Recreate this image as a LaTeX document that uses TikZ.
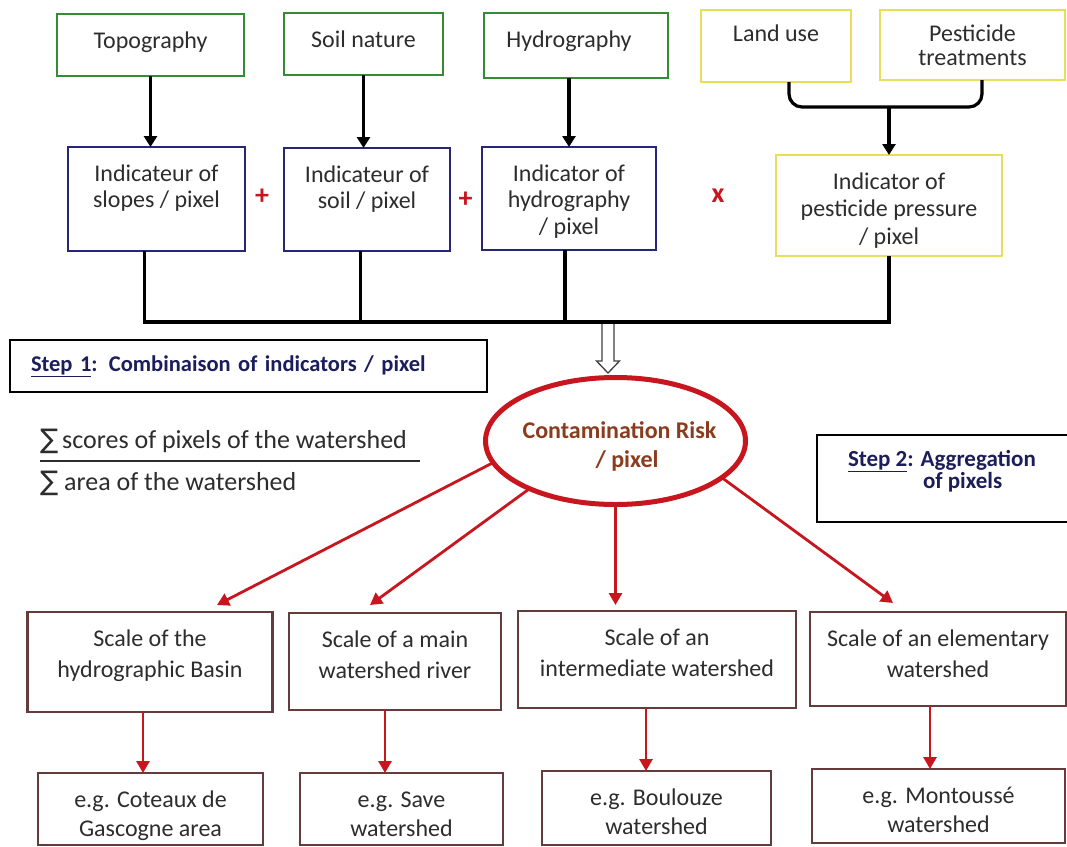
\documentclass[tikz,border=0pt]{standalone}
\usepackage{fontspec}
\setmainfont{Carlito}
\newfontfamily\sigfont{DejaVu Sans}
\usetikzlibrary{shapes.geometric,arrows.meta,calc}
\definecolor{cgreen}{RGB}{52,140,52}
\definecolor{cnavy}{RGB}{38,38,120}
\definecolor{cyellow}{RGB}{232,222,90}
\definecolor{cbrd}{RGB}{100,60,60}
\definecolor{cred}{RGB}{200,22,30}
\definecolor{cbrown}{RGB}{140,60,30}
\definecolor{cstep}{RGB}{28,30,92}
\definecolor{ctext}{RGB}{45,45,45}
\newcommand\tstrut{\rule{0pt}{17pt}}
\begin{document}
\begin{tikzpicture}[x=1pt,y=-1pt,
  every node/.style={inner sep=0pt,outer sep=0pt},
  gbox/.style={draw=cgreen,line width=2.8pt,fill=white},
  nbox/.style={draw=cnavy,line width=2.8pt,fill=white},
  ybox/.style={draw=cyellow,line width=2.8pt,fill=white},
  rbox/.style={draw=cbrd,line width=2.5pt,fill=white},
  kbox/.style={draw=black,line width=2.4pt,fill=white},
  lab/.style={anchor=north,yshift=-17pt,align=center,text=ctext,font=\fontsize{24}{26.5}\selectfont},
  labS/.style={lab,font=\fontsize{24}{31}\selectfont},
  labB/.style={lab,font=\fontsize{24}{29}\selectfont},
  op/.style={text=cred,font=\bfseries\fontsize{28}{28}\selectfont},
  conn/.style={line width=3.2pt,black},
  arr/.style={conn,-{Triangle[width=13pt,length=11pt]}},
  rarr/.style={line width=2.8pt,cred,-{Triangle[width=13pt,length=12pt]}},
  frac/.style={text=ctext,font=\fontsize{26}{26}\selectfont},
]
\fill[white] (0,0) rectangle (1067,846);
\useasboundingbox (0,0) rectangle (1067,846);

% top data sources
\node[gbox,minimum width=187pt,minimum height=62pt,label={[lab]north:{\tstrut Topography}}] (topo) at (150.5,45) {};
\node[gbox,minimum width=159pt,minimum height=62pt,label={[lab]north:{\tstrut Soil nature}}] (soil) at (363.5,44) {};
\node[gbox,minimum width=184pt,minimum height=65pt,label={[lab,xshift=-7pt]north:{\tstrut Hydrography}}] (hydro) at (576,45.5) {};
\node[ybox,minimum width=150pt,minimum height=72pt,label={[lab,yshift=3pt]north:{\tstrut Land use}}] (land) at (776,46) {};
\node[ybox,minimum width=185pt,minimum height=70pt,label={[lab,yshift=3pt,font=\fontsize{24}{24.5}\selectfont]north:{\tstrut Pesticide\\treatments}}] (pest) at (972.5,45) {};

% indicators
\node[nbox,minimum width=177pt,minimum height=104pt,label={[lab]north:{\tstrut Indicateur of\\slopes / pixel}}] (islope) at (156.5,199) {};
\node[nbox,minimum width=166pt,minimum height=103pt,label={[lab]north:{\tstrut Indicateur of\\soil / pixel}}] (isoil) at (367,199.5) {};
\node[nbox,minimum width=174pt,minimum height=103pt,label={[lab]north:{\tstrut Indicator of\\hydrography\\/ pixel}}] (ihydro) at (569,198.5) {};
\node[ybox,minimum width=226pt,minimum height=101pt,label={[lab,font=\fontsize{24}{27.5}\selectfont]north:{\tstrut Indicator of\\pesticide pressure\\/ pixel}}] (ipest) at (889,205.5) {};

\node[op] (plus1) at (262,197) {+};
\node[op] (plus2) at (465.5,200) {+};
\node[op] (times) at (718,196) {x};

% arrows top
\draw[arr] (topo.south) -- (topo.south |- islope.north);
\draw[arr] (soil.south) -- (soil.south |- isoil.north);
\draw[arr] (ihydro.north |- hydro.south) -- (ihydro.north);
\coordinate (brL) at ($(land.south)+(13,0)$);
\coordinate (brR) at ($(pest.south)+(9.5,0)$);
\coordinate (brY) at (0,107);
\draw[conn,rounded corners=13pt] (brL) -- (brL |- brY) -- (brR |- brY) -- (brR);
\draw[arr] (ipest.north |- brY) -- (ipest.north);

% collector bus
\coordinate (bus) at (0,322);
\coordinate (c1) at ($(islope.south)+(-12,0)$);
\coordinate (c2) at ($(isoil.south)+(-6.5,0)$);
\coordinate (c3) at ($(ihydro.south)+(-4,0)$);
\coordinate (c4) at (ipest.south);
\draw[conn,line width=3.6pt] (c1) -- (c1 |- bus) -- (c4 |- bus) -- (c4);
\draw[conn] (c2) -- (c2 |- bus);
\draw[conn] (c3) -- (c3 |- bus);

% step 1 box
\node[kbox,minimum width=477pt,minimum height=52pt,text width=435pt,align=left,inner xsep=21pt,
  text=cstep,font=\bfseries\fontsize{22.5}{24}\selectfont] (step1) at (248.5,366)
  {\underline{Step 1}: Combinaison of indicators / pixel};

% contamination risk ellipse
\node[ellipse,draw=cred,line width=5pt,fill=white,minimum width=260pt,minimum height=127pt] (risk) at (615.5,441) {};
\node[anchor=north,align=center,text=cbrown,font=\bfseries\fontsize{24}{29}\selectfont] (risktxt)
  at ($(risk.center)+(4,-20)$) {\tstrut Contamination Risk\\\hspace*{15pt}/ pixel};

% hollow arrow
\coordinate (hol) at (608,324);
\draw[black!75,line width=1.3pt,fill=white] ($(hol)+(-6,0)$) -- ($(hol)+(-6,37)$) -- ($(hol)+(-11.5,37)$)
  -- ($(hol)+(0,49)$) -- ($(hol)+(11.5,37)$) -- ($(hol)+(6,37)$) -- ($(hol)+(6,0)$);

% fraction
\node[frac,anchor=base west] (fnum) at (40,448) {{\sigfont\fontsize{27}{27}\selectfont ∑}\hspace{4pt}scores of pixels of the watershed};
\node[frac,anchor=base west] (fden) at (40,490) {{\sigfont\fontsize{27}{27}\selectfont ∑}\hspace{6pt}area of the watershed};
\coordinate (fbarL) at (40,461);
\coordinate (fbarR) at (420,461);
\draw[ctext,line width=2.4pt] (fbarL) -- (fbarR);

% step 2 box
\node[kbox,minimum width=255pt,minimum height=87pt,
  label={[anchor=north west,xshift=31pt,yshift=-14pt,align=left,text=cstep,font=\bfseries\fontsize{23}{22}\selectfont]north west:{\tstrut\underline{Step 2}: Aggregation\\\hspace*{75pt}of pixels}}] (step2) at (944.5,478.5) {};

% scale boxes
\node[rbox,minimum width=245pt,minimum height=100pt,label={[labS]north:{\tstrut Scale of the\\hydrographic Basin}}] (s1) at (150,662) {};
\node[rbox,minimum width=212pt,minimum height=97pt,label={[labS]north:{\tstrut Scale of a main\\watershed river}}] (s2) at (395,661.5) {};
\node[rbox,minimum width=278pt,minimum height=97pt,label={[labS]north:{\tstrut Scale of an\\intermediate watershed}}] (s3) at (657,659.5) {};
\node[rbox,minimum width=256pt,minimum height=94pt,label={[labS]north:{\tstrut Scale of an elementary\\watershed}}] (s4) at (938,659) {};

% example boxes
\node[rbox,minimum width=225pt,minimum height=72pt,label={[labB]north:{\tstrut e.g. Coteaux de\\Gascogne area}}] (b1) at (150.5,809) {};
\node[rbox,minimum width=203pt,minimum height=72pt,label={[labB]north:{\tstrut e.g. Save\\watershed}}] (b2) at (401.5,809) {};
\node[rbox,minimum width=229pt,minimum height=74pt,label={[labB]north:{\tstrut e.g. Boulouze\\watershed}}] (b3) at (656.5,808) {};
\node[rbox,minimum width=253pt,minimum height=74pt,label={[labB]north:{\tstrut e.g. Montoussé\\watershed}}] (b4) at (938.5,806) {};

% red arrows from risk
\draw[rarr] (risk.190) -- ($(s1.north)+(67,-7)$);
\draw[rarr] (risk.209) -- ($(s2.north)+(-25,-8)$);
\draw[rarr] (risk.south) -- ($(risk.south |- s3.north)+(0,-6)$);
\draw[rarr] (risk.341) -- ($(s4.north)+(-45,-9)$);

% red arrows down
\draw[rarr] ($(s1.south)+(-7,0)$) -- ($(s1.south |- b1.north)+(-7,0)$);
\draw[rarr] ($(s2.south)+(-10,0)$) -- ($(s2.south |- b2.north)+(-10,0)$);
\draw[rarr] ($(s3.south)+(-11,0)$) -- ($(s3.south |- b3.north)+(-11,0)$);
\draw[rarr] ($(s4.south)+(-8,0)$) -- ($(s4.south |- b4.north)+(-8,0)$);
\end{tikzpicture}
\end{document}
